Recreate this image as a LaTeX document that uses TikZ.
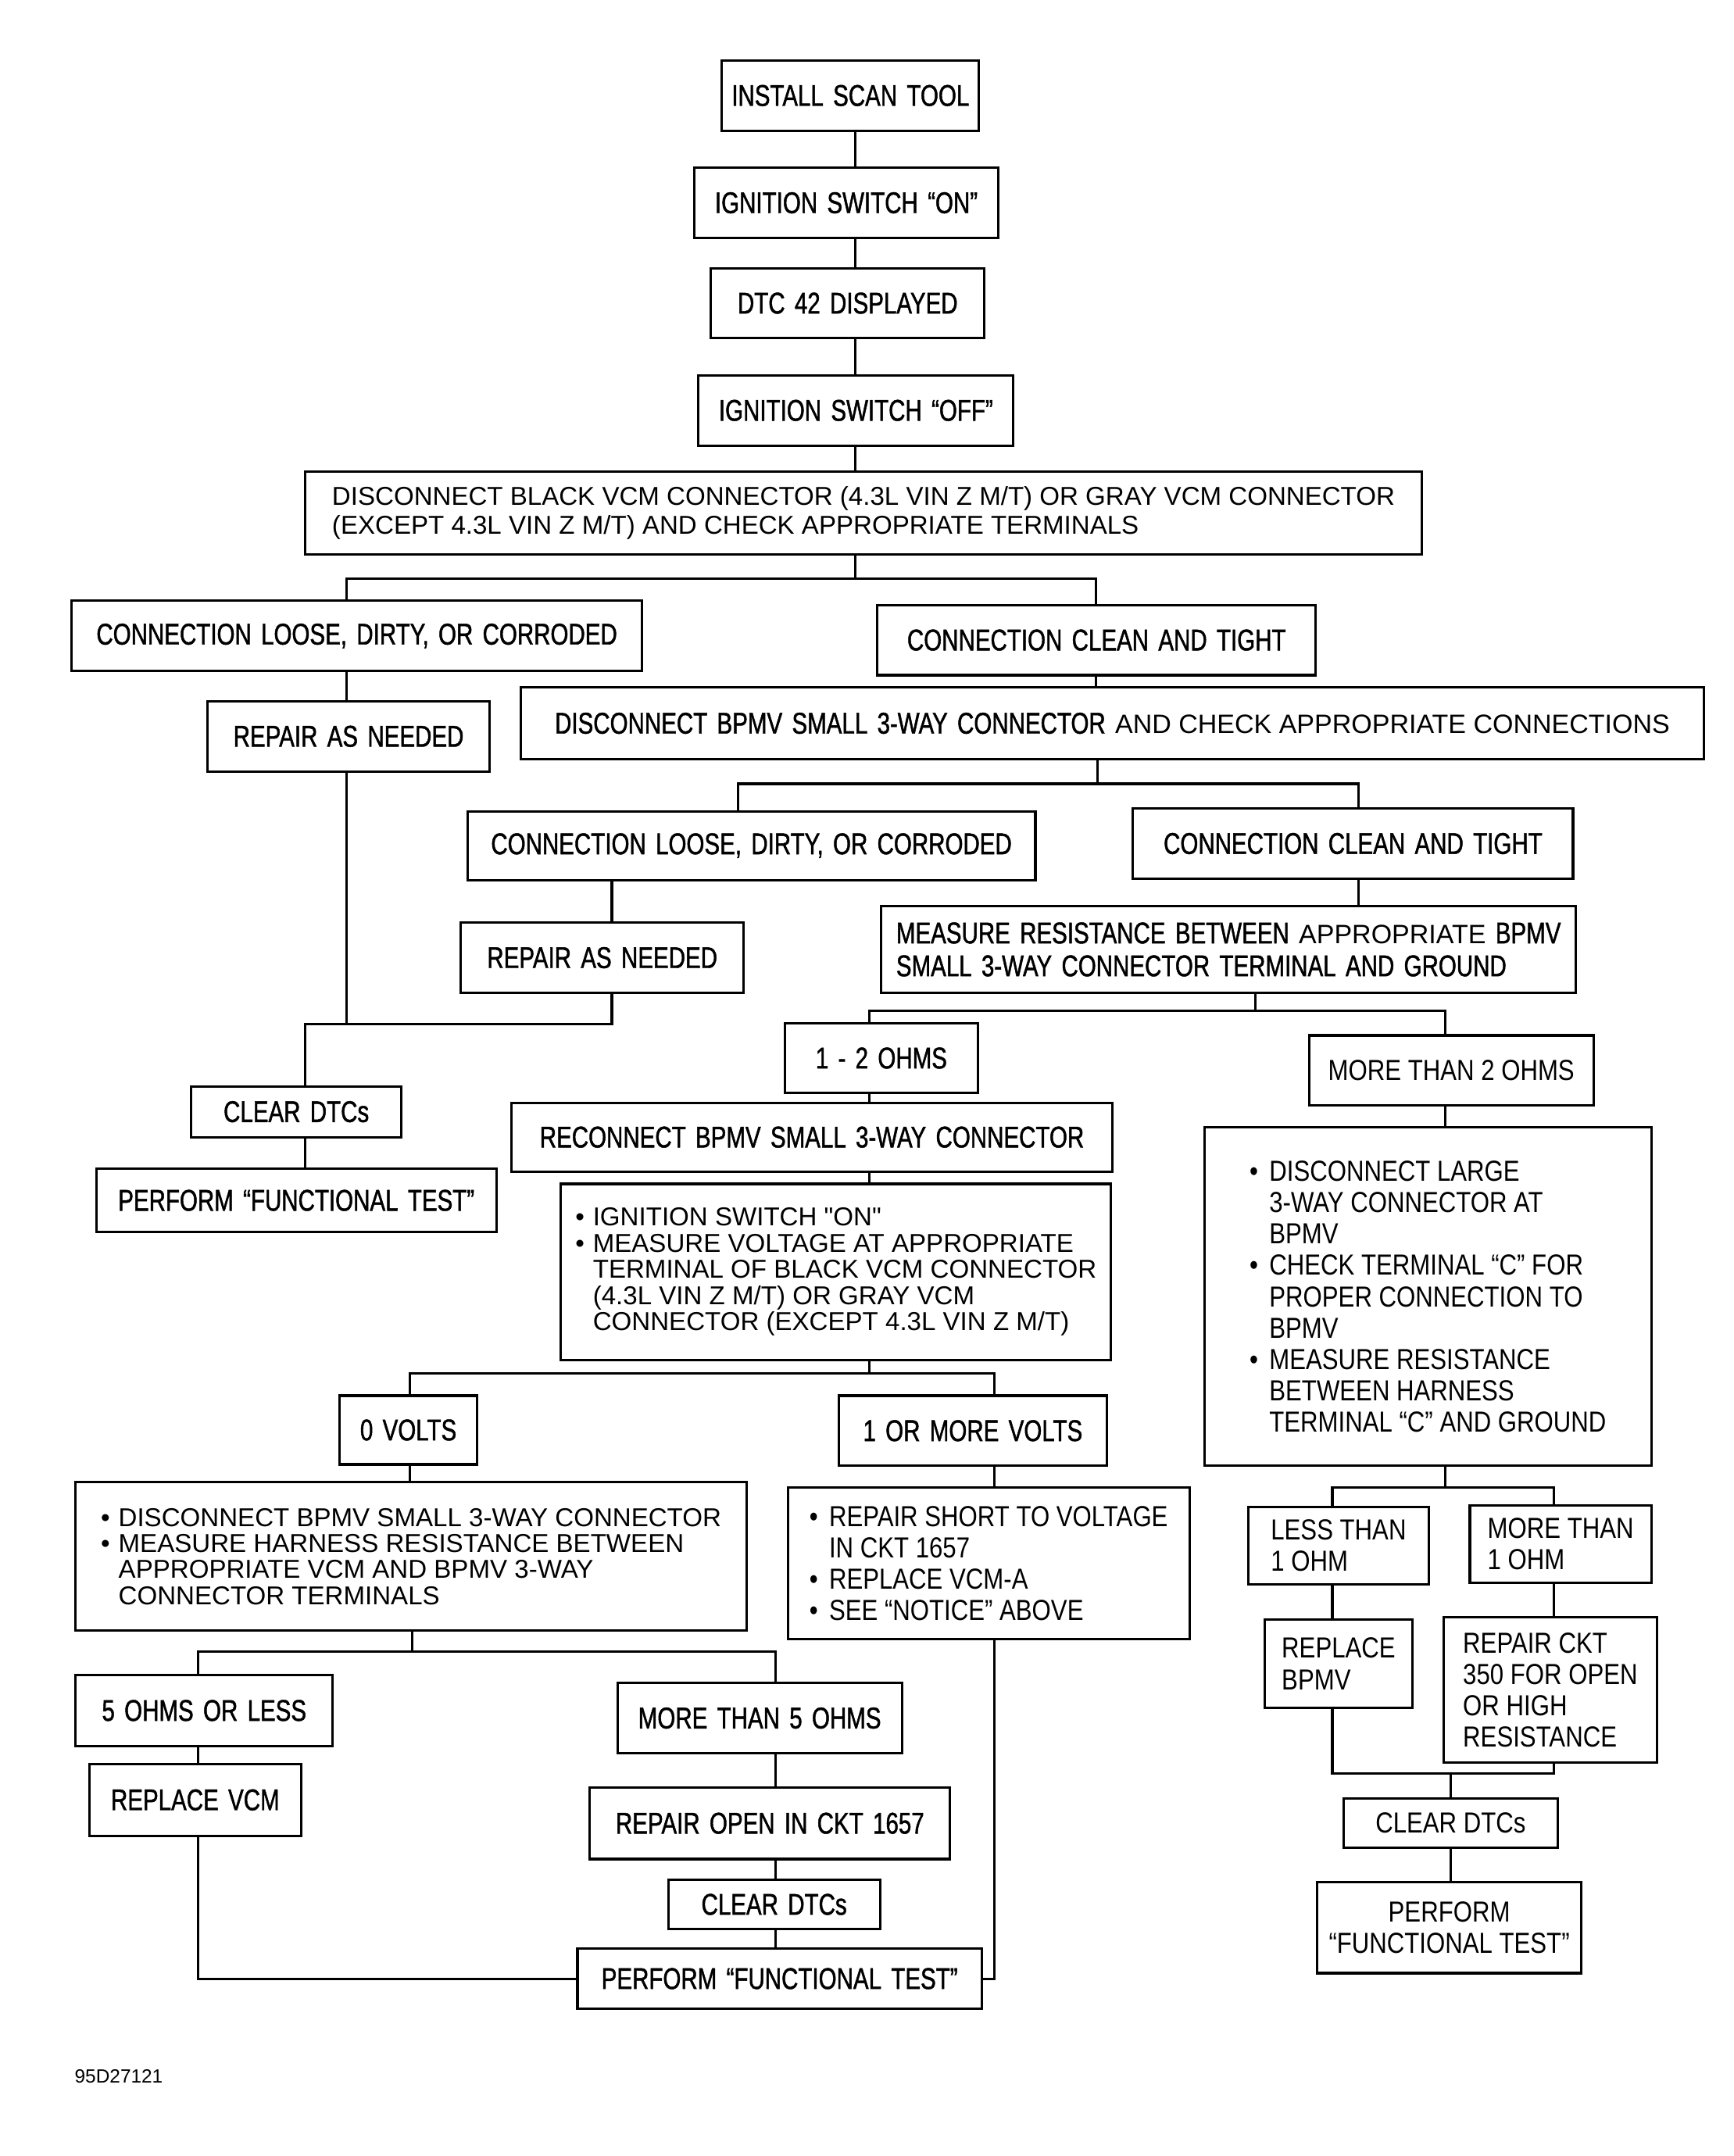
\documentclass[tikz,border=0pt]{standalone}
\usepackage{fontspec}
\setmainfont{Liberation Sans}
\newfontfamily\cnd[FakeStretch=0.77,FakeBold=1.2,WordSpace=1.5]{Liberation Sans}
\newfontfamily\hlv[FakeStretch=0.84]{Liberation Sans}
\newfontfamily\lgt{Liberation Sans}
\newcommand{\ltxt}[1]{{\lgt\fontsize{11}{13.6}\selectfont #1}}
\newcommand{\bul}{\makebox[.68em][l]{\textbullet}}
\newcommand{\bulind}{\hspace*{.68em}}

\tikzset{
  box/.style={draw, line width=1pt, inner sep=0pt, align=center,
    font=\cnd\fontsize{12.4}{13.6}\selectfont},
  hbox/.style={box, font=\hlv\fontsize{12}{13}\selectfont},
  lbox/.style={box, font=\lgt\fontsize{10.7}{10.8}\selectfont},
  sz/.style 2 args={minimum width=#1*0.02cm, minimum height=#2*0.02cm},
  wire/.style={line width=1pt}
}

\begin{document}
\begin{tikzpicture}[x=0.02cm, y=-0.02cm]
\fill[white] (0,0) rectangle (1261,1568);
\useasboundingbox (0,0) rectangle (1261,1568);

% top chain
\node[box, sz={187}{51}] (install) at (618.5,69.5) {INSTALL SCAN TOOL};
\node[box, sz={221}{51}] (ignon) at (615.5,147.5) {IGNITION SWITCH “ON”};
\node[box, sz={199}{51}] (dtc) at (616.5,220.5) {DTC 42 DISPLAYED};
\node[box, sz={229}{51}] (ignoff) at (622.5,298.5) {IGNITION SWITCH “OFF”};
\node[lbox, sz={812}{60}, align=left, font=\lgt\fontsize{10.7}{11.9}\selectfont] (discblack) at (628,373)
  {DISCONNECT BLACK VCM CONNECTOR (4.3L VIN Z M/T) OR GRAY VCM CONNECTOR\\(EXCEPT 4.3L VIN Z M/T) AND CHECK APPROPRIATE TERMINALS};

% first check
\node[box, sz={415}{51}] (loose1) at (259.5,462.5) {CONNECTION LOOSE, DIRTY, OR CORRODED};
\node[box, sz={319}{51}] (clean1) at (797.5,465.5) {CONNECTION CLEAN AND TIGHT};
\node[box, sz={205}{51}] (repair1) at (253.5,535.5) {REPAIR AS NEEDED};
\node[box, sz={860}{52}] (discbpmv) at (809,526) {DISCONNECT BPMV SMALL 3-WAY CONNECTOR \ltxt{AND CHECK APPROPRIATE CONNECTIONS}};

% second check
\node[box, sz={413}{50}] (loose2) at (546.5,615) {CONNECTION LOOSE, DIRTY, OR CORRODED};
\node[box, sz={320}{51}] (clean2) at (984,613.5) {CONNECTION CLEAN AND TIGHT};
\node[box, sz={206}{51}] (repair2) at (438,696.5) {REPAIR AS NEEDED};
\node[box, sz={505}{63}, align=left] (measure) at (893.5,690.5)
  {MEASURE RESISTANCE BETWEEN \ltxt{APPROPRIATE} BPMV\\SMALL 3-WAY CONNECTOR TERMINAL AND GROUND};
\node[box, sz={153}{37}] (clear1) at (215.5,808.5) {CLEAR DTCs};
\node[box, sz={291}{46}] (perform1) at (215.5,873) {PERFORM “FUNCTIONAL TEST”};

% resistance result
\node[box, sz={140}{51}] (onetwo) at (641,769.5) {1 - 2 OHMS};
\node[hbox, sz={207}{51}] (morethan2) at (1055.5,778.5) {MORE THAN 2 OHMS};
\node[box, sz={437}{50}] (reconnect) at (590.5,827) {RECONNECT BPMV SMALL 3-WAY CONNECTOR};
\node[lbox, sz={400}{128}, align=left] (measvolt) at (608,925)
  {\bul IGNITION SWITCH "ON"\\\bul MEASURE VOLTAGE AT APPROPRIATE\\\bulind TERMINAL OF BLACK VCM CONNECTOR\\\bulind (4.3L VIN Z M/T) OR GRAY VCM\\\bulind CONNECTOR (EXCEPT 4.3L VIN Z M/T)};
\node[hbox, sz={325}{246}, align=left] (disclarge) at (1038.5,943)
  {\bul DISCONNECT LARGE\\\bulind 3-WAY CONNECTOR AT\\\bulind BPMV\\\bul CHECK TERMINAL “C” FOR\\\bulind PROPER CONNECTION TO\\\bulind BPMV\\\bul MEASURE RESISTANCE\\\bulind BETWEEN HARNESS\\\bulind TERMINAL “C” AND GROUND};

% voltage result
\node[box, sz={100}{50}] (zerov) at (297,1040) {0 VOLTS};
\node[box, sz={195}{51}] (onemore) at (707.5,1040.5) {1 OR MORE VOLTS};
\node[lbox, sz={488}{108}, align=left] (discsmall) at (299,1132)
  {\bul DISCONNECT BPMV SMALL 3-WAY CONNECTOR\\\bul MEASURE HARNESS RESISTANCE BETWEEN\\\bulind APPROPRIATE VCM AND BPMV 3-WAY\\\bulind CONNECTOR TERMINALS};
\node[hbox, sz={292}{110}, align=left] (repshort) at (719,1137)
  {\bul REPAIR SHORT TO VOLTAGE\\\bulind IN CKT 1657\\\bul REPLACE VCM-A\\\bul SEE “NOTICE” ABOVE};
\node[hbox, sz={131}{56}, align=left] (lessone) at (973.5,1124) {LESS THAN\\1 OHM};
\node[hbox, sz={132}{56}, align=left] (moreone) at (1135,1123) {MORE THAN\\1 OHM};
\node[hbox, sz={107}{64}, align=left] (replbpmv) at (973.5,1210) {REPLACE\\BPMV};
\node[hbox, sz={155}{106}, align=left] (repckt) at (1127.5,1229) {REPAIR CKT\\350 FOR OPEN\\OR HIGH\\RESISTANCE};

% harness result
\node[box, sz={187}{52}] (fiveless) at (148.5,1244) {5 OHMS OR LESS};
\node[box, sz={207}{51}] (morefive) at (552.5,1249.5) {MORE THAN 5 OHMS};
\node[box, sz={154}{52}] (replvcm) at (142,1309) {REPLACE VCM};
\node[box, sz={262}{52}] (repopen) at (560,1326) {REPAIR OPEN IN CKT 1657};
\node[hbox, sz={156}{36}] (clear3) at (1055,1326) {CLEAR DTCs};
\node[box, sz={154}{36}] (clear2) at (563,1385) {CLEAR DTCs};
\node[hbox, sz={192}{66}] (perform3) at (1054,1402) {PERFORM\\“FUNCTIONAL TEST”};
\node[box, sz={294}{44}] (perform2) at (567,1439) {PERFORM “FUNCTIONAL TEST”};
\node[anchor=base west, font=\lgt\fontsize{7.9}{9}\selectfont, inner sep=0pt] (code) at (54,1515) {95D27121};

% junctions
\coordinate (t0) at (622,0);
\coordinate (b1) at (622,421);  \coordinate (b1l) at (252,421);  \coordinate (b1r) at (797,421);
\coordinate (b2) at (798,570);  \coordinate (b2l) at (537,570);  \coordinate (b2r) at (988,570);
\coordinate (m0) at (222,745);  \coordinate (m1) at (445,745);
\coordinate (b3) at (913,735);  \coordinate (b3l) at (632,735);  \coordinate (b3r) at (1051,735);
\coordinate (b4) at (632,999);  \coordinate (b4l) at (298,999);  \coordinate (b4r) at (723,999);
\coordinate (b5) at (300,1201); \coordinate (b5l) at (144,1201); \coordinate (b5r) at (564,1201);
\coordinate (b6) at (1051,1082); \coordinate (b6l) at (969,1082); \coordinate (b6r) at (1130,1082);
\coordinate (b7) at (1055,1290);

\foreach \a/\b in {install/ignon, ignon/dtc, dtc/ignoff, ignoff/discblack}
  \draw[wire] (\a.south -| t0) -- (\b.north -| t0);

\draw[wire] (discblack.south -| b1) -- (b1);
\draw[wire] (loose1.north -| b1l) -- (b1l) -- (b1r) -- (clean1.north -| b1r);
\draw[wire] (loose1.south -| b1l) -- (repair1.north -| b1l);
\draw[wire] (clean1.south -| b1r) -- (discbpmv.north -| b1r);

\draw[wire] (discbpmv.south -| b2) -- (b2);
\draw[wire] (loose2.north -| b2l) -- (b2l) -- (b2r) -- (clean2.north -| b2r);
\draw[wire] (loose2.south -| m1) -- (repair2.north -| m1);
\draw[wire] (clean2.south -| b2r) -- (measure.north -| b2r);

% repairs join
\draw[wire] (repair1.south -| b1l) -- (b1l |- m0);
\draw[wire] (repair2.south -| m1) -- (m1) -- (m0) -- (clear1.north -| m0);
\draw[wire] (clear1.south -| m0) -- (perform1.north -| m0);

\draw[wire] (measure.south -| b3) -- (b3);
\draw[wire] (onetwo.north -| b3l) -- (b3l) -- (b3r) -- (morethan2.north -| b3r);
\draw[wire] (onetwo.south -| b3l) -- (reconnect.north -| b3l);
\draw[wire] (reconnect.south -| b3l) -- (measvolt.north -| b3l);
\draw[wire] (morethan2.south -| b3r) -- (disclarge.north -| b3r);

\draw[wire] (measvolt.south -| b4) -- (b4);
\draw[wire] (zerov.north -| b4l) -- (b4l) -- (b4r) -- (onemore.north -| b4r);
\draw[wire] (zerov.south -| b4l) -- (discsmall.north -| b4l);
\draw[wire] (onemore.south -| b4r) -- (repshort.north -| b4r);
\draw[wire] (repshort.south -| b4r) |- (perform2.east);

\draw[wire] (discsmall.south -| b5) -- (b5);
\draw[wire] (fiveless.north -| b5l) -- (b5l) -- (b5r) -- (morefive.north -| b5r);
\draw[wire] (fiveless.south -| b5l) -- (replvcm.north -| b5l);
\draw[wire] (replvcm.south -| b5l) |- (perform2.west);
\foreach \a/\b in {morefive/repopen, repopen/clear2, clear2/perform2}
  \draw[wire] (\a.south -| b5r) -- (\b.north -| b5r);

\draw[wire] (disclarge.south -| b6) -- (b6);
\draw[wire] (lessone.north -| b6l) -- (b6l) -- (b6r) -- (moreone.north -| b6r);
\draw[wire] (lessone.south -| b6l) -- (replbpmv.north -| b6l);
\draw[wire] (moreone.south -| b6r) -- (repckt.north -| b6r);
\draw[wire] (replbpmv.south -| b6l) -- (b6l |- b7) -- (b6r |- b7) -- (repckt.south -| b6r);
\draw[wire] (b7) -- (clear3.north -| b7);
\draw[wire] (clear3.south -| b7) -- (perform3.north -| b7);
\end{tikzpicture}
\end{document}
